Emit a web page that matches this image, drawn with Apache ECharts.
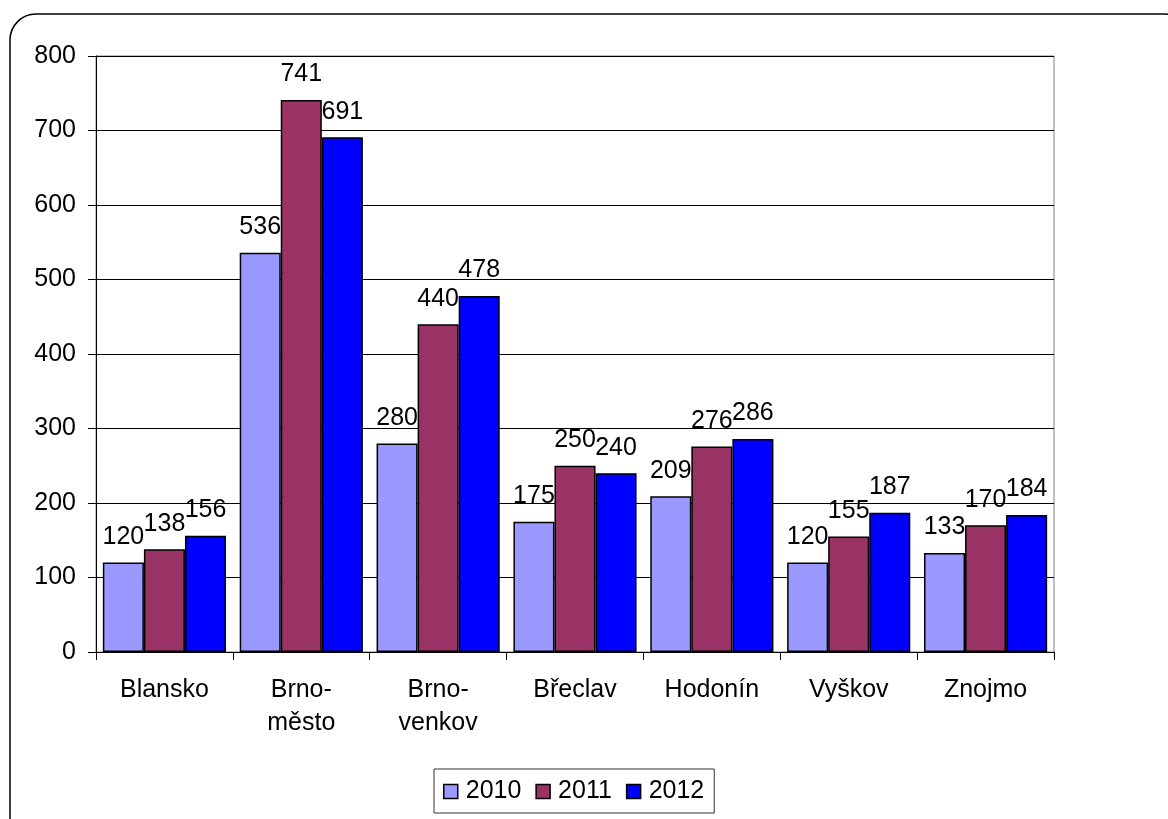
<!DOCTYPE html>
<html><head><meta charset="utf-8">
<script src="https://cdn.jsdelivr.net/npm/echarts@6/dist/echarts.min.js"></script>
<style>html,body{margin:0;padding:0;background:#fff}#c{width:1168px;height:819px}</style>
</head><body><div id="c"></div>
<script>
const categories = ['Blansko', 'Brno-\nměsto', 'Brno-\nvenkov', 'Břeclav', 'Hodonín', 'Vyškov', 'Znojmo'];
const seriesNames = ['2010', '2011', '2012'];
const values2010 = [120, 536, 280, 175, 209, 120, 133];
const values2011 = [138, 741, 440, 250, 276, 155, 170];
const values2012 = [156, 691, 478, 240, 286, 187, 184];
const colors = ['#9999FF', '#993366', '#0000FF'];
const yTicks = {min: 0, max: 800, interval: 100};

const chart = echarts.init(document.getElementById('c'), null, {renderer: 'canvas'});
const font = 'Liberation Sans, Arial, sans-serif';
const fs = 25;
function mk(name, data, color) {
  return {
    name, type: 'bar', data, barGap: '0%', barCategoryGap: '10%',
    itemStyle: {color, borderColor: '#000', borderWidth: 1.5},
    label: {show: true, position: 'top', distance: 13, color: '#000', fontSize: fs, fontFamily: font},
    emphasis: {disabled: true}
  };
}
chart.setOption({
  animation: false,
  textStyle: {fontFamily: font},
  graphic: [{
    type: 'rect', shape: {x: 10, y: 14, width: 1180, height: 830, r: 26},
    style: {fill: 'rgba(0,0,0,0)', stroke: '#000', lineWidth: 1.5},
    z: -10, silent: true
  }],
  grid: {left: 96, top: 56, width: 958, height: 596, containLabel: false, show: true, borderColor: '#808080', borderWidth: 1},
  legend: {
    data: seriesNames, bottom: 6, left: 434,
    itemWidth: 14, itemHeight: 14, itemGap: 14, icon: 'rect',
    textStyle: {fontSize: fs, color: '#000', fontFamily: font, padding: [0, 0, 0, 3]},
    borderColor: '#333', borderWidth: 1, padding: [10, 10, 9, 9],
    itemStyle: {borderColor: '#000', borderWidth: 1.5}
  },
  xAxis: {
    type: 'category', data: categories,
    axisLine: {lineStyle: {color: '#000', width: 1}},
    axisTick: {show: true, length: 8, lineStyle: {color: '#000'}},
    axisLabel: {fontSize: fs, color: '#000', margin: 22, lineHeight: 33, fontFamily: font}
  },
  yAxis: {
    type: 'value', min: yTicks.min, max: yTicks.max, interval: yTicks.interval,
    axisLine: {show: true, lineStyle: {color: '#000', width: 1}},
    axisTick: {show: true, length: 8, lineStyle: {color: '#000'}},
    axisLabel: {fontSize: fs, color: '#000', margin: 20, fontFamily: font},
    splitLine: {show: true, lineStyle: {color: '#000', width: 1}}
  },
  series: [mk('2010', values2010, colors[0]), mk('2011', values2011, colors[1]), mk('2012', values2012, colors[2])]
});
</script></body></html>
